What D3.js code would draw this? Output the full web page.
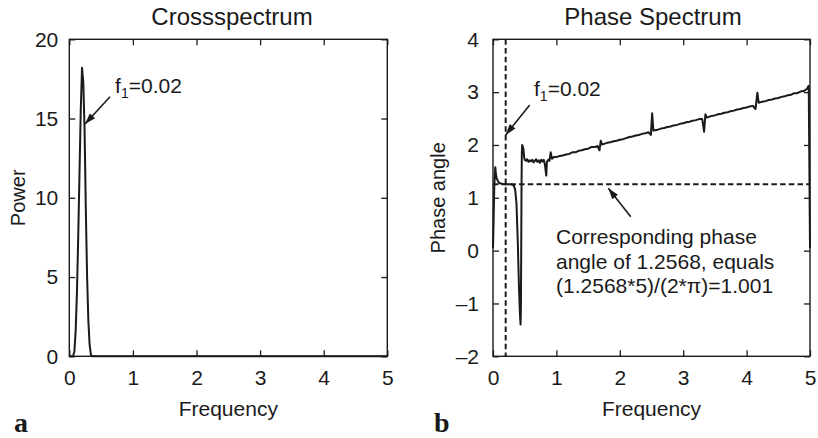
<!DOCTYPE html>
<html><head><meta charset="utf-8">
<script src="https://cdn.jsdelivr.net/npm/d3@7"></script>
<style>
html,body{margin:0;padding:0;background:#fff;}
svg{display:block;}
text{font-family:"Liberation Sans",Arial,Helvetica,sans-serif;fill:#1a1a1a;}
text.letter{font-family:"Liberation Serif","Times New Roman",serif;font-weight:bold;}
</style></head>
<body><svg id="c" width="818" height="438"></svg>
<script>
// ---------- data ----------
const xTicks = [0,1,2,3,4,5];
const powerTicks = [0,5,10,15,20];
const phaseTicks = [-2,-1,0,1,2,3,4];
const phaseTickLabels = ["\u20132","\u20131","0","1","2","3","4"];

const crossFreq  = [0,0.04,0.06,0.08,0.10,0.12,0.14,0.16,0.18,0.20,0.22,0.24,0.26,0.28,0.30,0.32,0.34,0.36,5];
const crossPower = [0,0,0.02,0.3,1.6,4.0,7.5,11.5,15.5,18.2,17.3,14.3,9.2,5.0,2.2,0.7,0.1,0,0];

const phaseFreq = [0,0.01,0.02,0.03,0.036,0.045,0.06,0.08,0.10,0.14,0.20,0.26,0.30,0.33,0.35,0.37,0.39,0.41,0.425,0.435,0.44,0.445,0.45,0.455,0.46,0.47,0.48,0.49,0.50,0.52,0.54,0.56,0.58,0.60,0.62,0.64,0.66,0.68,0.70,0.72,0.74,0.76,0.78,0.80,0.82,0.84,0.85,0.87,0.89,0.91,0.93,0.96,
1.00,1.05,1.10,1.15,1.20,1.25,1.30,1.35,1.40,1.45,1.50,1.55,1.60,1.65,1.68,1.70,1.72,1.75,1.80,1.85,1.90,1.95,2.00,2.05,2.10,2.15,2.20,2.25,2.30,2.35,2.40,2.45,2.49,2.51,2.53,2.55,2.60,2.65,2.70,2.75,2.80,2.85,2.90,2.95,3.00,3.05,3.10,3.15,3.20,3.25,3.30,3.33,3.35,3.37,3.40,3.45,3.50,3.55,3.60,3.65,3.70,3.75,3.80,3.85,3.90,3.95,4.00,4.05,4.10,4.14,4.17,4.19,4.25,4.30,4.35,4.40,4.45,4.50,4.55,4.60,4.65,4.70,4.75,4.80,4.85,4.90,4.95,4.98,5.00];
const phaseAngle = [0.05,0.6,1.2,1.45,1.58,1.45,1.36,1.31,1.28,1.265,1.2568,1.255,1.25,1.23,1.15,0.9,0.2,-0.7,-1.2,-1.40,-1.1,0.0,1.2,1.85,2.00,1.97,1.93,1.78,1.72,1.70,1.73,1.68,1.71,1.69,1.72,1.67,1.70,1.73,1.68,1.71,1.66,1.72,1.69,1.72,1.62,1.42,1.68,1.72,1.70,1.86,1.74,1.77,
1.77,1.79,1.80,1.82,1.83,1.86,1.86,1.89,1.90,1.92,1.93,1.96,1.96,1.98,1.90,2.08,2.01,2.02,2.04,2.05,2.07,2.08,2.10,2.11,2.13,2.15,2.16,2.18,2.19,2.21,2.22,2.24,2.19,2.60,2.27,2.28,2.29,2.31,2.32,2.34,2.35,2.37,2.38,2.40,2.41,2.43,2.44,2.46,2.47,2.49,2.49,2.25,2.58,2.52,2.53,2.55,2.56,2.58,2.59,2.61,2.62,2.64,2.65,2.67,2.68,2.70,2.71,2.73,2.74,2.68,2.99,2.80,2.82,2.83,2.85,2.86,2.88,2.89,2.91,2.92,2.94,2.95,2.98,2.98,3.01,3.02,3.06,3.12,0.05];

const f1 = 0.2;
const phaseRef = 1.2568;

// ---------- drawing ----------
const svg = d3.select("#c");
const INK = "#1a1a1a";

function panel(opts){
  const g = svg.append("g");
  const x = d3.scaleLinear().domain([0,5]).range(opts.xr);
  const y = d3.scaleLinear().domain(opts.yd).range([356.3,39.3]);
  const [x0,x1] = opts.xr;

  const ax = g.append("g").attr("transform",`translate(0,${y.range()[0]})`)
    .call(d3.axisBottom(x).tickValues(xTicks).tickSize(-6).tickSizeOuter(0).tickPadding(14).tickFormat(d3.format("d")));
  const at = g.append("g").attr("transform",`translate(0,${y.range()[1]})`)
    .call(d3.axisTop(x).tickValues(xTicks).tickSize(-6).tickSizeOuter(0).tickFormat(""));
  const al = g.append("g").attr("transform",`translate(${x0},0)`)
    .call(d3.axisLeft(y).tickValues(opts.yTicks).tickSize(-6).tickSizeOuter(0).tickPadding(opts.ypad)
      .tickFormat((d,i)=>opts.yLabels[i]));
  const ar = g.append("g").attr("transform",`translate(${x1},0)`)
    .call(d3.axisRight(y).tickValues(opts.yTicks).tickSize(-6).tickSizeOuter(0).tickFormat(""));
  [ax,at,al,ar].forEach(a=>{
    a.select(".domain").remove();
    a.selectAll("line").attr("stroke",INK).attr("stroke-width",1.3);
    a.selectAll("text").attr("font-size",21).attr("fill",INK);
  });
  g.append("rect").attr("x",x0).attr("y",y.range()[1]).attr("width",x1-x0).attr("height",y.range()[0]-y.range()[1])
    .attr("fill","none").attr("stroke",INK).attr("stroke-width",1.4);

  g.append("text").attr("x",opts.titleX).attr("y",25).attr("text-anchor","middle").attr("font-size",24).text(opts.title);
  g.append("text").attr("x",(x0+x1)/2).attr("y",415.5).attr("text-anchor","middle").attr("font-size",21).text("Frequency");
  g.append("text").attr("transform",`translate(${opts.ylabX},${(y.range()[0]+y.range()[1])/2}) rotate(-90)`)
    .attr("text-anchor","middle").attr("font-size",20).text(opts.ylab);
  g.append("text").attr("class","letter").attr("x",opts.letterX).attr("y",432).attr("font-size",28).text(opts.letter);
  return {g,x,y};
}

function arrow(g, x1,y1,x2,y2){
  g.append("line").attr("x1",x1).attr("y1",y1).attr("x2",x2).attr("y2",y2)
    .attr("stroke",INK).attr("stroke-width",1.6);
  const ang = Math.atan2(y2-y1,x2-x1), L=11, W=3.6;
  const bx = x2 - L*Math.cos(ang), by = y2 - L*Math.sin(ang);
  const px = -Math.sin(ang)*W, py = Math.cos(ang)*W;
  g.append("path").attr("d",`M${x2},${y2}L${bx+px},${by+py}L${bx-px},${by-py}Z`).attr("fill",INK);
}
function f1Label(g,x,y){
  const t = g.append("text").attr("x",x).attr("y",y).attr("font-size",21);
  t.append("tspan").text("f");
  t.append("tspan").attr("font-size",14).attr("dy",5).text("1");
  t.append("tspan").attr("dy",-5).text("=0.02");
}

// Left panel
const L = panel({xr:[69.3,387.3], yd:[0,20], yTicks:powerTicks, yLabels:powerTicks.map(String), ypad:11,
  title:"Crossspectrum", titleX:232, ylab:"Power", ylabX:25, letter:"a", letterX:14});
L.g.append("path").datum(crossFreq.map((f,i)=>[f,crossPower[i]]))
  .attr("d", d3.line().x(d=>L.x(d[0])).y(d=>L.y(d[1])))
  .attr("fill","none").attr("stroke",INK).attr("stroke-width",2).attr("stroke-linejoin","round");
arrow(L.g, L.x(0.64), L.y(16.38), L.x(0.247), L.y(14.66));
f1Label(L.g, L.x(0.72), L.y(16.6));

// Right panel
const R = panel({xr:[493,810], yd:[-2,4], yTicks:phaseTicks, yLabels:phaseTickLabels, ypad:14,
  title:"Phase Spectrum", titleX:653, ylab:"Phase angle", ylabX:445, letter:"b", letterX:434});
R.g.append("line").attr("x1",R.x(f1)).attr("x2",R.x(f1)).attr("y1",R.y(4)).attr("y2",R.y(-2))
  .attr("stroke",INK).attr("stroke-width",2).attr("stroke-dasharray","5.5,3.2");
R.g.append("line").attr("x1",R.x(0)).attr("x2",R.x(5)).attr("y1",R.y(phaseRef)).attr("y2",R.y(phaseRef))
  .attr("stroke",INK).attr("stroke-width",2).attr("stroke-dasharray","5.5,3.2");
R.g.append("path").datum(phaseFreq.map((f,i)=>[f,phaseAngle[i]]))
  .attr("d", d3.line().x(d=>R.x(d[0])).y(d=>R.y(d[1])))
  .attr("fill","none").attr("stroke",INK).attr("stroke-width",2).attr("stroke-linejoin","round");
arrow(R.g, R.x(0.579), R.y(2.757), R.x(0.2), R.y(2.19));
f1Label(R.g, R.x(0.647), R.y(2.93));
arrow(R.g, R.x(2.172), R.y(0.642), R.x(1.819), R.y(1.18));
const lines = ["Corresponding phase","angle of 1.2568, equals","(1.2568*5)/(2*\u03c0)=1.001"];
const lineV = [0.126,-0.345,-0.80];
lines.forEach((s,i)=>{
  R.g.append("text").attr("x",R.x(0.994)).attr("y",R.y(lineV[i])).attr("font-size",21).text(s);
});
</script></body></html>
